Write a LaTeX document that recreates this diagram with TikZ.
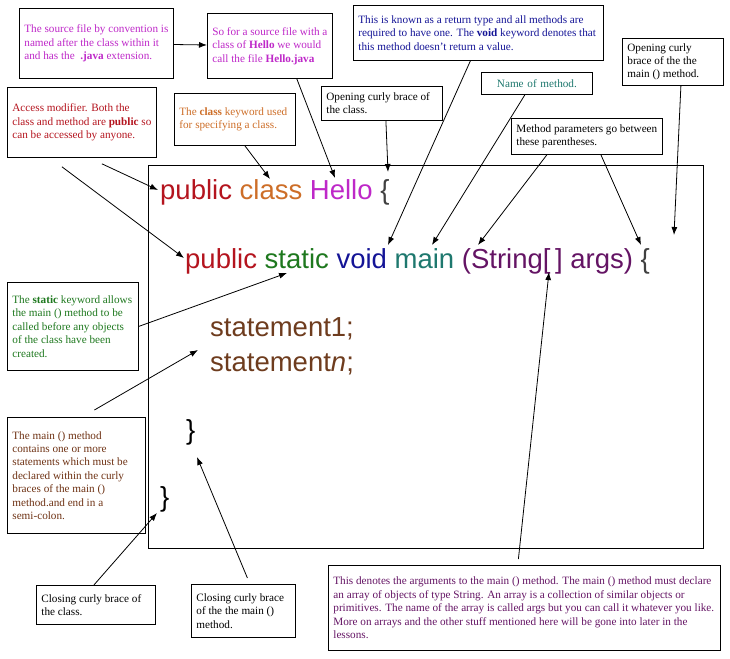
\documentclass[tikz,border=0pt]{standalone}
\usepackage{fontspec}
\setmainfont{Liberation Serif}
\setsansfont{Liberation Sans}
\usetikzlibrary{positioning,arrows.meta}
\definecolor{cmag}{RGB}{190,40,200}
\definecolor{cblue}{RGB}{20,20,150}
\definecolor{cteal}{RGB}{30,120,110}
\definecolor{cred}{RGB}{180,20,30}
\definecolor{corange}{RGB}{205,110,40}
\definecolor{cgreen}{RGB}{30,120,30}
\definecolor{cbrown}{RGB}{110,50,20}
\definecolor{cpurple}{RGB}{100,20,100}
\definecolor{ccode}{RGB}{110,60,30}
\tikzset{
  note/.style={draw, thick, anchor=north west, align=flush left, inner sep=5pt,
    font=\fontsize{11.2}{13.4}\selectfont},
  code/.style={anchor=base west, inner sep=0pt, font=\sffamily\fontsize{27.5}{30}\selectfont},
  pointer/.style={-{Latex[length=8pt,width=6pt]}, thick}
}
\begin{document}
\begin{tikzpicture}[x=1pt, y=-1pt]
\useasboundingbox (0,0) rectangle (730,658);

% code frame
\draw (148,165) rectangle (703,548);

% code lines
\node[code] (l1) at (160,199) {\textcolor{cred}{public} \textcolor{corange}{class} \textcolor{cmag}{Hello} \textcolor{darkgray}{\{}};
\node[code] (l2) at (185,268) {\textcolor{cred}{public} \textcolor{cgreen}{static} \textcolor{cblue}{void} \textcolor{cteal}{main} \textcolor{cpurple}{(String[\,] args)} \textcolor{darkgray}{\{}};
\node[code, text=ccode] (s1) at (210,336) {statement1;};
\node[code, text=ccode] (sn) at (210,371) {statement\textit{n};};
\node[code] (cb1) at (186,439) {\}};
\node[code] (cb2) at (160,506) {\}};

% notes
\node[note, text=cmag, text width=144pt, minimum height=70pt] (src) at (19,8)
  {The source file by convention is named after the class within it and has the \ \textbf{.java} extension.};
\node[note, text=cmag, text width=115pt, minimum height=65pt] (hello) at (207,13)
  {So for a source file with a class of \textbf{Hello} we would call the file \textbf{Hello.java}};
\node[note, text=cblue, text width=240pt, minimum height=55pt] (ret) at (353,5)
  {This is known as a return type and all methods are required to have one. The \textbf{void} keyword denotes that this method doesn't return a value.};
\node[note, text width=91pt, minimum height=46pt] (ocm) at (622,38)
  {Opening curly brace of the the main () method.};
\node[note, text=cteal, text width=101pt, minimum height=22pt, align=center] (name) at (481,72)
  {Name of method.};
\node[note, text=cred, text width=139pt, minimum height=70pt] (acc) at (7,87)
  {Access modifier. Both the class and method are \textbf{public} so can be accessed by anyone.};
\node[note, text=corange, text width=111pt, minimum height=52pt] (kw) at (174,93)
  {The \textbf{class} keyword used for specifying a class.};
\node[note, text width=111pt, minimum height=34pt] (occ) at (321,86)
  {Opening curly brace of the class.};
\node[note, text width=141pt, minimum height=36pt] (par) at (511,118)
  {Method parameters go between these parentheses.};
\node[note, text=cgreen, text width=121pt, minimum height=88pt] (st) at (7,282)
  {The \textbf{static} keyword allows the main () method to be called before any objects of the class have been created.};
\node[note, text=cbrown, text width=128pt, minimum height=116pt] (mm) at (7,417)
  {The main () method contains one or more statements which must be declared within the curly braces of the main () method.and end in a semi-colon.};
\node[note, text width=109pt, minimum height=39pt] (ccl) at (36,585)
  {Closing curly brace of the class.};
\node[note, text width=94pt, minimum height=53pt] (cmn) at (191,584)
  {Closing curly brace of the the main () method.};
\node[note, text=cpurple, text width=382pt, minimum height=85pt] (args) at (328,565)
  {This denotes the arguments to the main () method. The main () method must declare an array of objects of type String. An array is a collection of similar objects or primitives. The name of the array is called args but you can call it whatever you like. More on arrays and the other stuff mentioned here will be gone into later in the lessons.};

% pointer tips
\coordinate (tPub1) at (158,190);
\coordinate (tClass) at (270,179);
\coordinate (tHello) at (335,178);
\coordinate (tOcc) at (388,172);
\coordinate (tPub2) at (184,258);
\coordinate (tVoid) at (388,245);
\coordinate (tMain) at (432,245);
\coordinate (tParen) at (478,245);
\coordinate (tArgs) at (641,245);
\coordinate (tOcm) at (674,235);
\coordinate (tStatic) at (287,273);
\coordinate (tStmt) at (198,350);
\coordinate (tString) at (549,272);
\coordinate (tCb1) at (197,457);
\coordinate (tCb2) at (157,513);

% arrows
\draw[pointer] (src) -- (hello);
\draw[pointer] (hello.south east) ++(-36,0) -- (tHello);
\draw[pointer] (ret.south) ++(-8,0) -- (tVoid);
\draw[pointer] (name.south) ++(-12,0) -- (tMain);
\draw[pointer] (par.south) ++(-40,0) -- (tParen);
\draw[pointer] (par.south) ++(14,0) -- (tArgs);
\draw[pointer] (ocm.south) ++(8,0) -- (tOcm);
\draw[pointer] (occ.south) ++(4,0) -- (tOcc);
\draw[pointer] (kw.south) ++(10,0) -- (tClass);
\draw[pointer] (acc.south) ++(20,6) -- (tPub1);
\draw[pointer] (acc.south) ++(-20,9) -- (tPub2);
\draw[pointer] (st.east) -- (tStatic);
\draw[pointer] (mm.north) ++(18,-7) -- (tStmt);
\draw[pointer] (ccl.north) ++(-2,0) -- (tCb2);
\draw[pointer] (cmn.north) ++(4,-6) -- (tCb1);
\draw[pointer] (args.north) ++(-6,-6) -- (tString);
\end{tikzpicture}
\end{document}
